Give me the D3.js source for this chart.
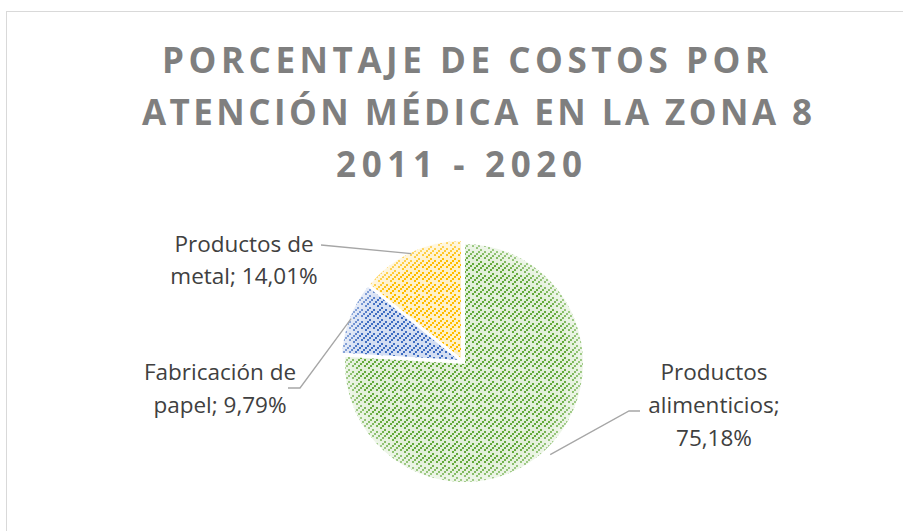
<!DOCTYPE html>
<html lang="es">
<head>
<meta charset="utf-8">
<script src="https://d3js.org/d3.v7.min.js"></script>
<style>
  body { margin: 0; background: #fff; }
  svg { display: block; }
</style>
</head>
<body>
<script>
// data
var categories = ["Productos alimenticios", "Fabricación de papel", "Productos de metal"];
var values = [75.18, 9.79, 14.01];
var labelLines = [["Productos", "alimenticios;", "75,18%"], ["Fabricación de", "papel; 9,79%"], ["Productos de", "metal; 14,01%"]];
var titleLines = ["PORCENTAJE DE COSTOS POR", "ATENCIÓN MÉDICA EN LA ZONA 8", "2011 - 2020"];

var width = 903, height = 531;
var cx = 463, cy = 362, radius = 120, explode = 2;

var svg = d3.select("body").append("svg")
    .attr("width", width)
    .attr("height", height);

// chart frame
svg.append("rect")
    .attr("x", 6.5).attr("y", 11.5)
    .attr("width", 1000).attr("height", 600)
    .attr("fill", "#fff")
    .attr("stroke", "#d9d9d9");

// patterns like the excel fill (dashed upward diagonal)
var palette = [
    { fg: "#63a93a", bg: "#e2efd9" },
    { fg: "#3f6dc2", bg: "#d4def2" },
    { fg: "#ffbc00", bg: "#fff1c9" }
];
var tile = 12;
var dots = [[0, 10], [2, 8], [4, 6], [8, 2], [10, 0],
            [0, 4], [2, 2], [4, 0], [6, 10], [8, 8]];
var defs = svg.append("defs");
palette.forEach(function(p, i) {
    var pat = defs.append("pattern")
        .attr("id", "pat" + i)
        .attr("patternUnits", "userSpaceOnUse")
        .attr("width", tile).attr("height", tile);
    pat.append("rect").attr("width", tile).attr("height", tile).attr("fill", p.bg)
        .attr("shape-rendering", "crispEdges");
    pat.selectAll("rect.d")
        .data(dots)
        .enter().append("rect")
        .attr("class", "d")
        .attr("x", function(d) { return d[0]; })
        .attr("y", function(d) { return d[1]; })
        .attr("width", 2).attr("height", 2)
        .attr("shape-rendering", "crispEdges")
        .attr("fill", p.fg);
});
var glow = defs.append("radialGradient").attr("id", "glow")
    .attr("gradientUnits", "userSpaceOnUse")
    .attr("cx", 0).attr("cy", 0).attr("r", radius);
glow.append("stop").attr("offset", "0.85").attr("stop-color", "#fff").attr("stop-opacity", 0);
glow.append("stop").attr("offset", "1").attr("stop-color", "#fff").attr("stop-opacity", 0.45);

// title
var titleBox = [{ x: 162, w: 606 }, { x: 142, w: 670 }, { x: 336, w: 246 }];
svg.append("text")
    .attr("font-family", "'Open Sans', sans-serif")
    .attr("font-weight", "bold")
    .attr("font-size", 35)
    .attr("fill", "#7f7f7f")
    .selectAll("tspan")
    .data(titleLines)
    .enter().append("tspan")
    .attr("x", function(d, i) { return titleBox[i].x; })
    .attr("y", function(d, i) { return 73 + i * 52; })
    .attr("textLength", function(d, i) { return titleBox[i].w; })
    .attr("lengthAdjust", "spacing")
    .text(function(d) { return d; });

// pie
var pie = d3.pie().sort(null).value(function(d) { return d; });
var arcs = pie(values);
var arc = d3.arc().innerRadius(0).outerRadius(radius);

function offset(d) {
    var a = (d.startAngle + d.endAngle) / 2;
    return [Math.round(cx + Math.sin(a) * explode), Math.round(cy - Math.cos(a) * explode)];
}

var slice = svg.append("g")
    .selectAll("g")
    .data(arcs)
    .enter().append("g")
    .attr("transform", function(d) { return "translate(" + offset(d) + ")"; });

slice.append("path")
    .attr("d", arc)
    .attr("fill", function(d, i) { return "url(#pat" + i + ")"; });
slice.append("path")
    .attr("d", arc)
    .attr("fill", "url(#glow)")
    .attr("stroke", "#fff")
    .attr("stroke-width", 2);

// labels with leader lines
var labelPos = [
    { x: 714, y: 380, dy: 33, line: [[640, 411], [629, 411]], edge: 1.06 },
    { x: 220, y: 380, dy: 33, line: [[288, 388], [300, 388]], edge: 1.0 },
    { x: 244, y: 252, dy: 32, line: [[321, 245]], edge: 1.0 }
];

arcs.forEach(function(d, i) {
    var a = (d.startAngle + d.endAngle) / 2;
    var lp = labelPos[i];
    var pts = lp.line.slice();
    pts.push([cx + Math.sin(a) * radius * lp.edge, cy - Math.cos(a) * radius * lp.edge]);
    svg.append("path")
        .attr("d", d3.line()(pts))
        .attr("fill", "none")
        .attr("stroke", "#a6a6a6")
        .attr("stroke-width", 1.3);

    svg.append("text")
        .attr("text-anchor", "middle")
        .attr("font-family", "'Open Sans', sans-serif")
        .attr("font-size", 22.5)
        .attr("fill", "#404040")
        .selectAll("tspan")
        .data(labelLines[i])
        .enter().append("tspan")
        .attr("x", lp.x)
        .attr("y", function(t, j) { return lp.y + j * lp.dy; })
        .text(function(t) { return t; });
});
</script>
</body>
</html>
